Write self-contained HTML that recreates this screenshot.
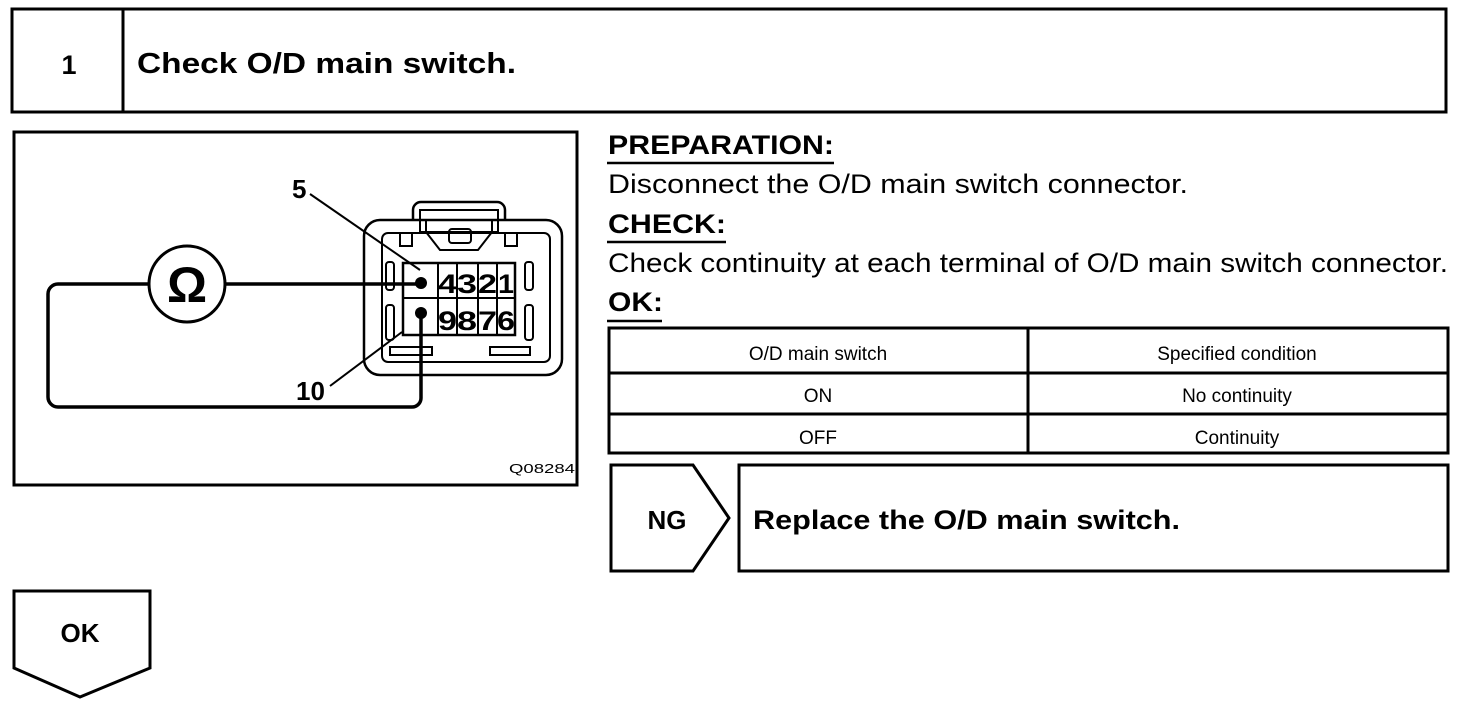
<!DOCTYPE html>
<html><head><meta charset="utf-8"><style>
html,body{margin:0;padding:0;background:#fff;}
svg{display:block;}
text{font-family:"Liberation Sans",Arial,sans-serif;fill:#000;}
</style></head><body>
<svg width="1472" height="706" viewBox="0 0 1472 706" xmlns="http://www.w3.org/2000/svg">
<g fill="none" stroke="#000" stroke-width="3">
<rect x="12" y="9" width="1434" height="103"/>
<line x1="123" y1="9" x2="123" y2="112"/>
<rect x="14" y="132" width="563" height="353"/>
<rect x="609" y="328" width="839" height="125"/>
<line x1="1028" y1="328" x2="1028" y2="453"/>
<line x1="609" y1="373" x2="1448" y2="373"/>
<line x1="609" y1="414" x2="1448" y2="414"/>
<polygon points="611,465 693,465 729,518 693,571 611,571"/>
<rect x="739" y="465" width="709" height="106"/>
<polygon points="14,591 150,591 150,668 80,697 14,668"/>
</g>
<g stroke="#000" stroke-width="2.5">
<line x1="607" y1="163" x2="834" y2="163"/>
<line x1="607" y1="242" x2="726" y2="242"/>
<line x1="607" y1="321" x2="662" y2="321"/>
</g>
<g fill="none" stroke="#000" stroke-width="2.5">
<path d="M413,220 V210 a8,8 0 0 1 8,-8 H497 a8,8 0 0 1 8,8 V220"/>
<rect x="364" y="220" width="198" height="155" rx="16"/>
<rect x="382" y="233" width="168" height="129" rx="6" stroke-width="2"/>
<path d="M426,220 V232 L440,250 H478 L492,232 V220" stroke-width="2"/>
<rect x="420" y="210" width="78" height="22" stroke-width="2"/>
<rect x="449" y="229" width="22" height="14" rx="3" stroke-width="2"/>
<rect x="400" y="233" width="12" height="13" stroke-width="2"/>
<rect x="505" y="233" width="12" height="13" stroke-width="2"/>
<rect x="403" y="263" width="112" height="72" stroke-width="2.5"/>
<line x1="403" y1="298" x2="515" y2="298" stroke-width="2"/>
<line x1="438" y1="263" x2="438" y2="335" stroke-width="2"/>
<line x1="457" y1="263" x2="457" y2="335" stroke-width="2"/>
<line x1="478" y1="263" x2="478" y2="335" stroke-width="2"/>
<line x1="497" y1="263" x2="497" y2="335" stroke-width="2"/>
<rect x="386" y="262" width="8" height="28" rx="3" stroke-width="2"/>
<rect x="386" y="305" width="8" height="35" rx="3" stroke-width="2"/>
<rect x="525" y="262" width="8" height="28" rx="3" stroke-width="2"/>
<rect x="525" y="305" width="8" height="35" rx="3" stroke-width="2"/>
<rect x="390" y="347" width="42" height="8" stroke-width="2"/>
<rect x="490" y="347" width="40" height="8" stroke-width="2"/>
<circle cx="187" cy="284" r="38" stroke-width="3"/>
<line x1="225" y1="284" x2="420" y2="284" stroke-width="3.5"/>
<path d="M149,284 H58 a10,10 0 0 0 -10,10 V397 a10,10 0 0 0 10,10 H412 a9,9 0 0 0 9,-9 V313" stroke-width="3.5"/>
<line x1="310" y1="194" x2="420" y2="270" stroke-width="2"/>
<line x1="330" y1="386" x2="402" y2="332" stroke-width="2"/>
</g>
<circle cx="421" cy="283" r="6" fill="#000"/>
<circle cx="421" cy="313" r="6" fill="#000"/>
<g font-weight="bold" font-size="27">
<text x="438" y="293" textLength="19" lengthAdjust="spacingAndGlyphs">4</text><text x="457" y="293" textLength="20" lengthAdjust="spacingAndGlyphs">3</text><text x="478" y="293" textLength="19" lengthAdjust="spacingAndGlyphs">2</text><text x="498" y="293" textLength="16" lengthAdjust="spacingAndGlyphs">1</text>
<text x="438" y="330" textLength="19" lengthAdjust="spacingAndGlyphs">9</text><text x="457" y="330" textLength="20" lengthAdjust="spacingAndGlyphs">8</text><text x="478" y="330" textLength="19" lengthAdjust="spacingAndGlyphs">7</text><text x="497" y="330" textLength="18" lengthAdjust="spacingAndGlyphs">6</text>
</g>
<text x="187" y="302" font-size="50" font-weight="bold" text-anchor="middle">Ω</text>
<text x="292" y="198" font-size="26" font-weight="bold">5</text>
<text x="296" y="400" font-size="26" font-weight="bold">10</text>
<text x="509" y="473" font-size="13" textLength="66" lengthAdjust="spacingAndGlyphs">Q08284</text>
<text x="69" y="74" font-size="27" font-weight="bold" text-anchor="middle">1</text>
<text x="137" y="73" font-size="29" font-weight="bold" textLength="379" lengthAdjust="spacingAndGlyphs">Check O/D main switch.</text>
<text x="608" y="154" font-size="27" font-weight="bold" textLength="226" lengthAdjust="spacingAndGlyphs">PREPARATION:</text>
<text x="608" y="193" font-size="27" textLength="580" lengthAdjust="spacingAndGlyphs">Disconnect the O/D main switch connector.</text>
<text x="608" y="233" font-size="27" font-weight="bold" textLength="118" lengthAdjust="spacingAndGlyphs">CHECK:</text>
<text x="608" y="272" font-size="27" textLength="840" lengthAdjust="spacingAndGlyphs">Check continuity at each terminal of O/D main switch connector.</text>
<text x="608" y="311" font-size="27" font-weight="bold" textLength="55" lengthAdjust="spacingAndGlyphs">OK:</text>
<g font-size="19" text-anchor="middle">
<text x="818" y="360">O/D main switch</text>
<text x="1237" y="360">Specified condition</text>
<text x="818" y="402">ON</text>
<text x="1237" y="402">No continuity</text>
<text x="818" y="444">OFF</text>
<text x="1237" y="444">Continuity</text>
</g>
<text x="667" y="529" font-size="26" font-weight="bold" text-anchor="middle">NG</text>
<text x="753" y="529" font-size="27" font-weight="bold" textLength="427" lengthAdjust="spacingAndGlyphs">Replace the O/D main switch.</text>
<text x="80" y="642" font-size="26" font-weight="bold" text-anchor="middle">OK</text>
</svg>
</body></html>
